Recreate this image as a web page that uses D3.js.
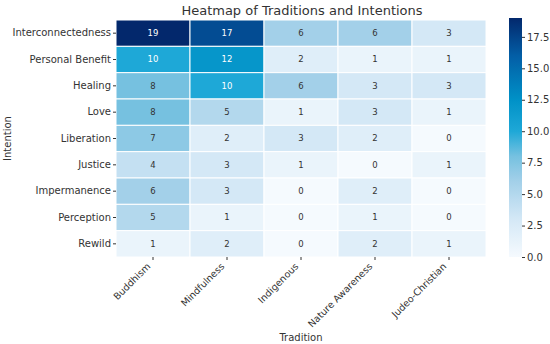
<!DOCTYPE html>
<html>
<head>
<meta charset="utf-8">
<script src="https://cdn.jsdelivr.net/npm/d3@7"></script>
<style>
  body { margin: 0; background: #fff; }
  text { font-family: "DejaVu Sans", sans-serif; fill: #333; }
</style>
</head>
<body>
<div id="chart"></div>
<script>
var traditions = ["Buddhism", "Mindfulness", "Indigenous", "Nature Awareness", "Judeo-Christian"];
var intentions = ["Interconnectedness", "Personal Benefit", "Healing", "Love", "Liberation",
                  "Justice", "Impermanence", "Perception", "Rewild"];
// one row per intention, one column per tradition
var counts = [
    [19, 17, 6, 6, 3],
    [10, 12, 2, 1, 1],
    [8, 10, 6, 3, 3],
    [8, 5, 1, 3, 1],
    [7, 2, 3, 2, 0],
    [4, 3, 1, 0, 1],
    [6, 3, 0, 2, 0],
    [5, 1, 0, 1, 0],
    [1, 2, 0, 2, 1]
];
var colorbarTicks = [0, 2.5, 5, 7.5, 10, 12.5, 15, 17.5];

var width = 550, height = 344;
var margin = { top: 20, left: 116, right: 64, bottom: 87 };

var svg = d3.select("#chart").append("svg")
    .attr("width", width)
    .attr("height", height);

var x = d3.scaleBand()
    .domain(traditions)
    .range([margin.left, width - margin.right]);

var y = d3.scaleBand()
    .domain(intentions)
    .range([margin.top, height - margin.bottom]);

var color = d3.scaleLinear()
    .domain([0, 3, 6, 8, 10, 12.5, 16, 19])
    .range(["#f5fafe", "#d4e8f6", "#a3d0e9", "#76c1e0", "#1ea8d7", "#0091c7", "#035ea6", "#03286c"])
    .clamp(true);

var cells = [];
counts.forEach(function (row, i) {
    row.forEach(function (v, j) {
        cells.push({ intention: intentions[i], tradition: traditions[j], value: v });
    });
});

svg.append("g").selectAll("rect")
    .data(cells)
    .enter()
    .append("rect")
    .attr("x", function (d) { return x(d.tradition); })
    .attr("y", function (d) { return y(d.intention); })
    .attr("width", x.bandwidth())
    .attr("height", y.bandwidth())
    .attr("fill", function (d) { return color(d.value); })
    .attr("stroke", "#fff")
    .attr("stroke-width", 1);

svg.append("g").selectAll("text")
    .data(cells)
    .enter()
    .append("text")
    .attr("x", function (d) { return x(d.tradition) + x.bandwidth() / 2; })
    .attr("y", function (d) { return y(d.intention) + y.bandwidth() / 2; })
    .attr("dy", "0.35em")
    .attr("text-anchor", "middle")
    .style("font-size", "8.5px")
    .style("fill", function (d) { return d.value >= 10 ? "#fff" : "#333"; })
    .text(function (d) { return d.value; });

// axes
var axisY = svg.append("g")
    .attr("transform", "translate(" + margin.left + ",0)")
    .call(d3.axisLeft(y).tickSize(3).tickPadding(2));
axisY.select(".domain").remove();
axisY.selectAll("text").style("font-size", "10px").style("fill", "#333");
axisY.selectAll("line").attr("stroke", "#333");

var axisX = svg.append("g")
    .attr("transform", "translate(0," + (height - margin.bottom) + ")")
    .call(d3.axisBottom(x).tickSize(3).tickPadding(2));
axisX.select(".domain").remove();
axisX.selectAll("line").attr("stroke", "#333");
axisX.selectAll("text")
    .style("font-size", "9.5px")
    .style("fill", "#333")
    .style("text-anchor", "end")
    .attr("x", 0)
    .attr("y", 0)
    .attr("dy", 0)
    .attr("transform", "translate(-2,10) rotate(-45)");

// titles
svg.append("text")
    .attr("x", (margin.left + width - margin.right) / 2 + 1)
    .attr("y", 15)
    .attr("text-anchor", "middle")
    .style("font-size", "13px")
    .text("Heatmap of Traditions and Intentions");

svg.append("text")
    .attr("x", (margin.left + width - margin.right) / 2)
    .attr("y", 341)
    .attr("text-anchor", "middle")
    .style("font-size", "10px")
    .text("Tradition");

svg.append("text")
    .attr("transform", "translate(11," + (margin.top + (height - margin.bottom - margin.top) / 2) + ") rotate(-90)")
    .attr("text-anchor", "middle")
    .style("font-size", "10px")
    .text("Intention");

// colorbar
var cbX = 509, cbW = 13;
var cbScale = d3.scaleLinear()
    .domain([0, 19])
    .range([height - margin.bottom, margin.top - 2]);

var defs = svg.append("defs");
var grad = defs.append("linearGradient")
    .attr("id", "cbgrad")
    .attr("x1", "0").attr("y1", "1").attr("x2", "0").attr("y2", "0");
d3.range(0, 19.01, 0.5).forEach(function (v) {
    grad.append("stop")
        .attr("offset", (v / 19 * 100) + "%")
        .attr("stop-color", color(v));
});

svg.append("rect")
    .attr("x", cbX)
    .attr("y", cbScale(19))
    .attr("width", cbW)
    .attr("height", cbScale(0) - cbScale(19))
    .attr("fill", "url(#cbgrad)");

var axisC = svg.append("g")
    .attr("transform", "translate(" + (cbX + cbW) + ",0)")
    .call(d3.axisRight(cbScale).tickValues(colorbarTicks).tickFormat(d3.format(".1f")).tickSize(3).tickPadding(2));
axisC.select(".domain").remove();
axisC.selectAll("line").attr("stroke", "#333");
axisC.selectAll("text").style("font-size", "10px").style("fill", "#333");
</script>
</body>
</html>
